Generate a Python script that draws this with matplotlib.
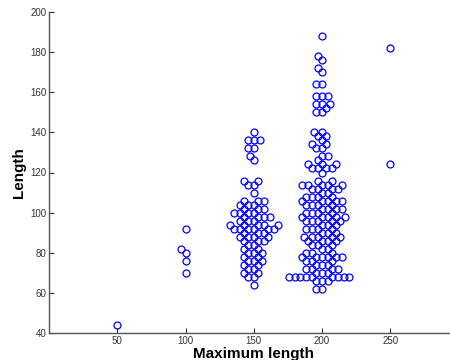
import numpy as np
import matplotlib
matplotlib.use("Agg")
import matplotlib.pyplot as plt

plt.rcParams['font.family'] = ['Liberation Sans', 'DejaVu Sans']

# Data: group (maximum length) -> {length value: count}
groups = [50, 100, 150, 200, 250]
vals_50 = {44: 1}
vals_100 = {92: 1, 82: 1, 80: 1, 76: 1, 70: 1}
vals_150 = {140: 1, 136: 3, 132: 2, 128: 1, 126: 1, 116: 2, 114: 2, 110: 1,
            106: 3, 104: 3, 102: 3, 100: 4, 98: 4, 96: 3, 94: 5, 92: 6, 90: 3,
            88: 4, 86: 3, 84: 2, 82: 2, 80: 3, 78: 2, 76: 3, 74: 2, 72: 2,
            70: 2, 68: 2, 64: 1}
vals_200 = {188: 1, 178: 1, 176: 1, 172: 1, 170: 1, 164: 2, 158: 3, 154: 3,
            152: 1, 150: 2, 140: 2, 138: 2, 136: 1, 134: 2, 132: 2, 128: 2,
            126: 1, 124: 3, 122: 4, 120: 1, 116: 2, 114: 5, 112: 4, 110: 2,
            108: 4, 106: 5, 104: 4, 102: 4, 100: 4, 98: 5, 96: 5, 94: 3,
            92: 4, 90: 3, 88: 5, 86: 4, 84: 3, 82: 2, 80: 3, 78: 6, 76: 3,
            74: 3, 72: 4, 70: 3, 68: 9, 66: 3, 62: 2}
vals_250 = {182: 1, 124: 1}
group_vals = [vals_50, vals_100, vals_150, vals_200, vals_250]

xticks = [50, 100, 150, 200, 250]
yticks = [40, 60, 80, 100, 120, 140, 160, 180, 200]

fig = plt.figure(figsize=(4.5, 3.6), dpi=100)
ax = fig.add_axes([49/450, 27/360, 409.5/450, 321/360])
ax.set_xlim(0, 300)
ax.set_ylim(40, 200)


def swarm(px_y, d):
    """Beeswarm offsets (pixels) for points with pixel y positions."""
    order = np.argsort(px_y, kind='stable')
    placed = []
    offs = np.zeros(len(px_y))
    for i in order:
        y = px_y[i]
        cands = [0.0]
        for (xo, yo) in placed:
            dy = abs(y - yo)
            if dy < d:
                dx = np.sqrt(d * d - dy * dy)
                cands += [xo + dx, xo - dx]
        cands.sort(key=lambda c: (abs(c), c))
        for c in cands:
            ok = True
            for (xo, yo) in placed:
                if (c - xo) ** 2 + (y - yo) ** 2 < d * d - 1e-6:
                    ok = False
                    break
            if ok:
                offs[i] = c
                placed.append((c, y))
                break
    return offs


fig.canvas.draw()
trans = ax.transData
inv = trans.inverted()
for g, vd in zip(groups, group_vals):
    ys = []
    for v, n in vd.items():
        ys += [v] * n
    ys = np.array(ys, dtype=float)
    pts = trans.transform(np.column_stack([np.full(len(ys), g), ys]))
    offs = swarm(pts[:, 1], 5.8)
    pts[:, 0] += offs
    data = inv.transform(pts)
    ax.plot(data[:, 0], data[:, 1], 'o', markersize=5.0, markerfacecolor='none',
            markeredgecolor='#0000ff', markeredgewidth=0.9, linestyle='none',
            clip_on=False)

ax.set_xticks(xticks)
ax.set_yticks(yticks)
ax.tick_params(direction='in', length=3.5, width=0.8, labelsize=7, colors='#333333',
               pad=2)
for s in ['top', 'right']:
    ax.spines[s].set_visible(False)
for s in ['left', 'bottom']:
    ax.spines[s].set_color('#555555')
    ax.spines[s].set_linewidth(1.0)
ax.set_xlabel('Maximum length', fontsize=11, fontweight='bold', labelpad=1)
ax.set_ylabel('Length', fontsize=11, fontweight='bold', labelpad=3)

fig.savefig('out.png', dpi=100)
